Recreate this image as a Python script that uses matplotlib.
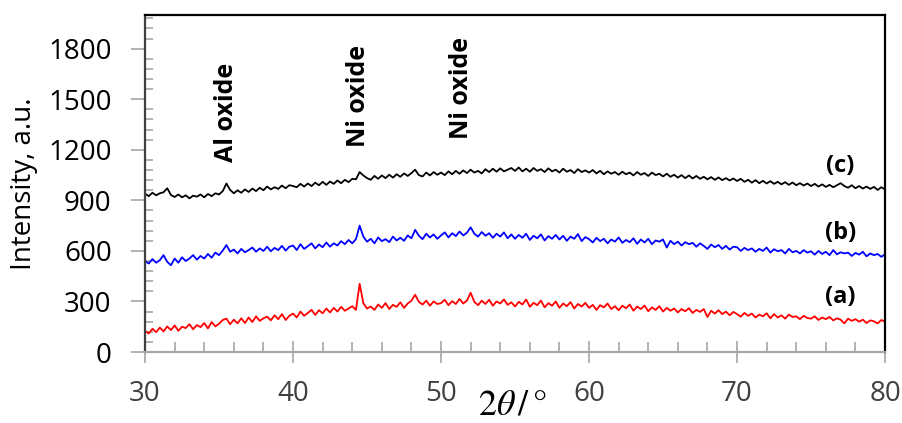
import numpy as np
import matplotlib
matplotlib.use("Agg")
import matplotlib.pyplot as plt
from matplotlib.ticker import MultipleLocator

# -----------------------------
# 1. Data (2theta = 30..80, step 0.25)
# -----------------------------
theta_start, theta_step = 30.0, 0.25

intensity_a = [
    125, 110, 138, 118, 145, 122, 152, 130, 158, 126, 150, 142, 165, 135, 160, 148, 172, 140, 178, 152,
    168, 190, 198, 165, 192, 170, 200, 172, 205, 178, 212, 185, 200, 210, 188, 218, 195, 225, 190, 215,
    228, 205, 240, 215, 232, 250, 220, 248, 230, 258, 235, 262, 240, 268, 245, 258, 272, 250, 405, 290,
    258, 270, 250, 282, 262, 290, 255, 280, 268, 295, 262, 288, 305, 340, 298, 282, 305, 275, 300, 285,
    290, 310, 278, 302, 285, 315, 288, 305, 352, 298, 278, 305, 285, 310, 275, 300, 288, 312, 280, 295,
    270, 298, 282, 312, 268, 292, 278, 305, 265, 290, 275, 300, 262, 288, 272, 296, 258, 285, 270, 292,
    262, 280, 250, 278, 265, 288, 255, 272, 248, 275, 260, 282, 245, 270, 255, 276, 242, 265, 250, 272,
    240, 262, 245, 258, 235, 255, 242, 260, 232, 250, 238, 255, 208, 245, 228, 248, 225, 240, 218, 238,
    225, 210, 232, 215, 228, 205, 222, 212, 230, 200, 225, 205, 218, 198, 222, 208, 212, 195, 215, 202,
    198, 212, 190, 205, 195, 208, 188, 200, 192, 170, 198, 185, 195, 180, 192, 172, 188, 182, 170, 190,
    180,
]

intensity_b = [
    540, 525, 552, 530, 545, 575, 535, 515, 555, 530, 562, 540, 555, 575, 548, 570, 555, 582, 560, 590,
    575, 602, 635, 595, 608, 585, 612, 592, 605, 620, 595, 615, 600, 625, 598, 618, 605, 630, 602, 625,
    632, 605, 640, 612, 628, 645, 615, 638, 622, 650, 625, 645, 632, 658, 640, 665, 645, 670, 750, 685,
    655, 672, 645, 680, 658, 670, 652, 685, 662, 678, 660, 692, 675, 725, 690, 670, 702, 680, 698, 672,
    692, 710, 680, 705, 688, 715, 692, 708, 740, 702, 685, 712, 690, 705, 678, 702, 685, 710, 675, 698,
    672, 695, 678, 702, 665, 690, 675, 698, 662, 688, 672, 695, 668, 690, 660, 685, 672, 700, 658, 682,
    670, 650, 678, 658, 672, 645, 668, 655, 680, 648, 665, 652, 675, 642, 668, 650, 672, 640, 662, 655,
    668, 620, 660, 640, 655, 632, 652, 640, 648, 625, 645, 630, 612, 638, 622, 635, 612, 630, 608, 625,
    622, 600, 618, 605, 615, 595, 612, 600, 620, 590, 610, 598, 605, 585, 612, 592, 600, 585, 605, 590,
    598, 578, 600, 582, 595, 575, 605, 580, 592, 585, 590, 570, 588, 578, 595, 568, 585, 575, 582, 565,
    580,
]

intensity_c = [
    940, 925, 945, 930, 942, 948, 972, 932, 920, 935, 918, 930, 912, 928, 922, 935, 918, 938, 925, 942,
    935, 955, 1000, 962, 942, 960, 945, 965, 950, 970, 955, 975, 960, 982, 965, 978, 968, 988, 972, 990,
    985, 978, 998, 982, 1000, 985, 1005, 990, 1010, 992, 1012, 998, 1018, 1002, 1022, 1008, 1028, 1025, 1068, 1048,
    1032, 1022, 1045, 1028, 1048, 1032, 1052, 1035, 1055, 1040, 1060, 1045, 1062, 1082, 1050, 1042, 1065, 1048, 1068, 1052,
    1065, 1050, 1072, 1055, 1075, 1058, 1078, 1062, 1082, 1065, 1075, 1060, 1085, 1068, 1088, 1070, 1090, 1072, 1082, 1092,
    1075, 1095, 1072, 1088, 1070, 1092, 1075, 1085, 1068, 1090, 1072, 1082, 1065, 1088, 1070, 1080, 1062, 1085, 1068, 1078,
    1065, 1080, 1060, 1075, 1055, 1072, 1058, 1068, 1052, 1070, 1055, 1065, 1048, 1068, 1052, 1062, 1045, 1065, 1050, 1058,
    1042, 1058, 1040, 1052, 1035, 1050, 1032, 1048, 1030, 1045, 1028, 1040, 1025, 1038, 1022, 1036, 1020, 1032, 1018, 1030,
    1015, 1028, 1010, 1022, 1005, 1020, 1002, 1016, 1000, 1014, 998, 1010, 995, 1008, 992, 1006, 990, 1002, 988, 1000,
    985, 998, 982, 995, 980, 992, 978, 990, 1002, 985, 975, 990, 972, 985, 970, 982, 968, 980, 962, 978,
    965,
]

series_labels = ["(a)", "(b)", "(c)"]
series_colors = ["red", "blue", "black"]
label_pos = [(77.0, 327), (77.0, 707), (77.0, 1105)]

peak_names = ["Al oxide", "Ni oxide", "Ni oxide"]
peak_pos = [(35.5, 1420), (44.4, 1521), (51.4, 1568)]

two_theta = theta_start + theta_step * np.arange(len(intensity_a))

# -----------------------------
# 2. Plot
# -----------------------------
plt.rcParams["font.family"] = ["Open Sans", "DejaVu Sans"]
plt.rcParams["mathtext.fontset"] = "stix"

fig = plt.figure(figsize=(9.02, 4.23), dpi=100)
ax = fig.add_axes([0.1608, 0.1678, 0.8204, 0.7967])

for y, c in zip([intensity_a, intensity_b, intensity_c], series_colors):
    ax.plot(two_theta, y, color=c, linewidth=1.3)

for lab, (x, y) in zip(series_labels, label_pos):
    ax.text(x, y, lab, fontsize=17, fontweight="bold", ha="center", va="center")

for name, (x, y) in zip(peak_names, peak_pos):
    ax.text(x, y, name, fontsize=18, fontweight="bold", rotation=90,
            ha="center", va="center")

ax.set_xlim(30, 80)
ax.set_ylim(0, 2000)
ax.xaxis.set_major_locator(MultipleLocator(10))
ax.xaxis.set_minor_locator(MultipleLocator(2))
ax.set_yticks(range(0, 1801, 300))
ax.yaxis.set_minor_locator(MultipleLocator(60))

ax.tick_params(axis="x", which="major", direction="inout", length=16,
               color="#a6a6a6", width=1.2, labelsize=20, labelcolor="#404040", pad=12)
ax.tick_params(axis="x", which="minor", direction="in", length=7,
               color="#a6a6a6", width=1.2)
ax.tick_params(axis="y", which="major", direction="out", length=10,
               color="#a6a6a6", width=1.2, labelsize=20, labelcolor="black", pad=14)
ax.tick_params(axis="y", which="minor", direction="in", length=6,
               color="#a6a6a6", width=1.2)

ax.spines["left"].set_color("#404040")
ax.spines["bottom"].set_color("#a6a6a6")
ax.spines["top"].set_color("black")
ax.spines["right"].set_color("black")
for s in ax.spines.values():
    s.set_linewidth(1.6)

ax.set_ylabel("Intensity, a.u.", fontsize=20)
ax.yaxis.set_label_coords(-0.145, 0.5)
fig.text(0.568, 0.0, r"$2\theta\,/\,°$", fontsize=26, ha="center", va="bottom")

fig.savefig("out.png", dpi=100)
